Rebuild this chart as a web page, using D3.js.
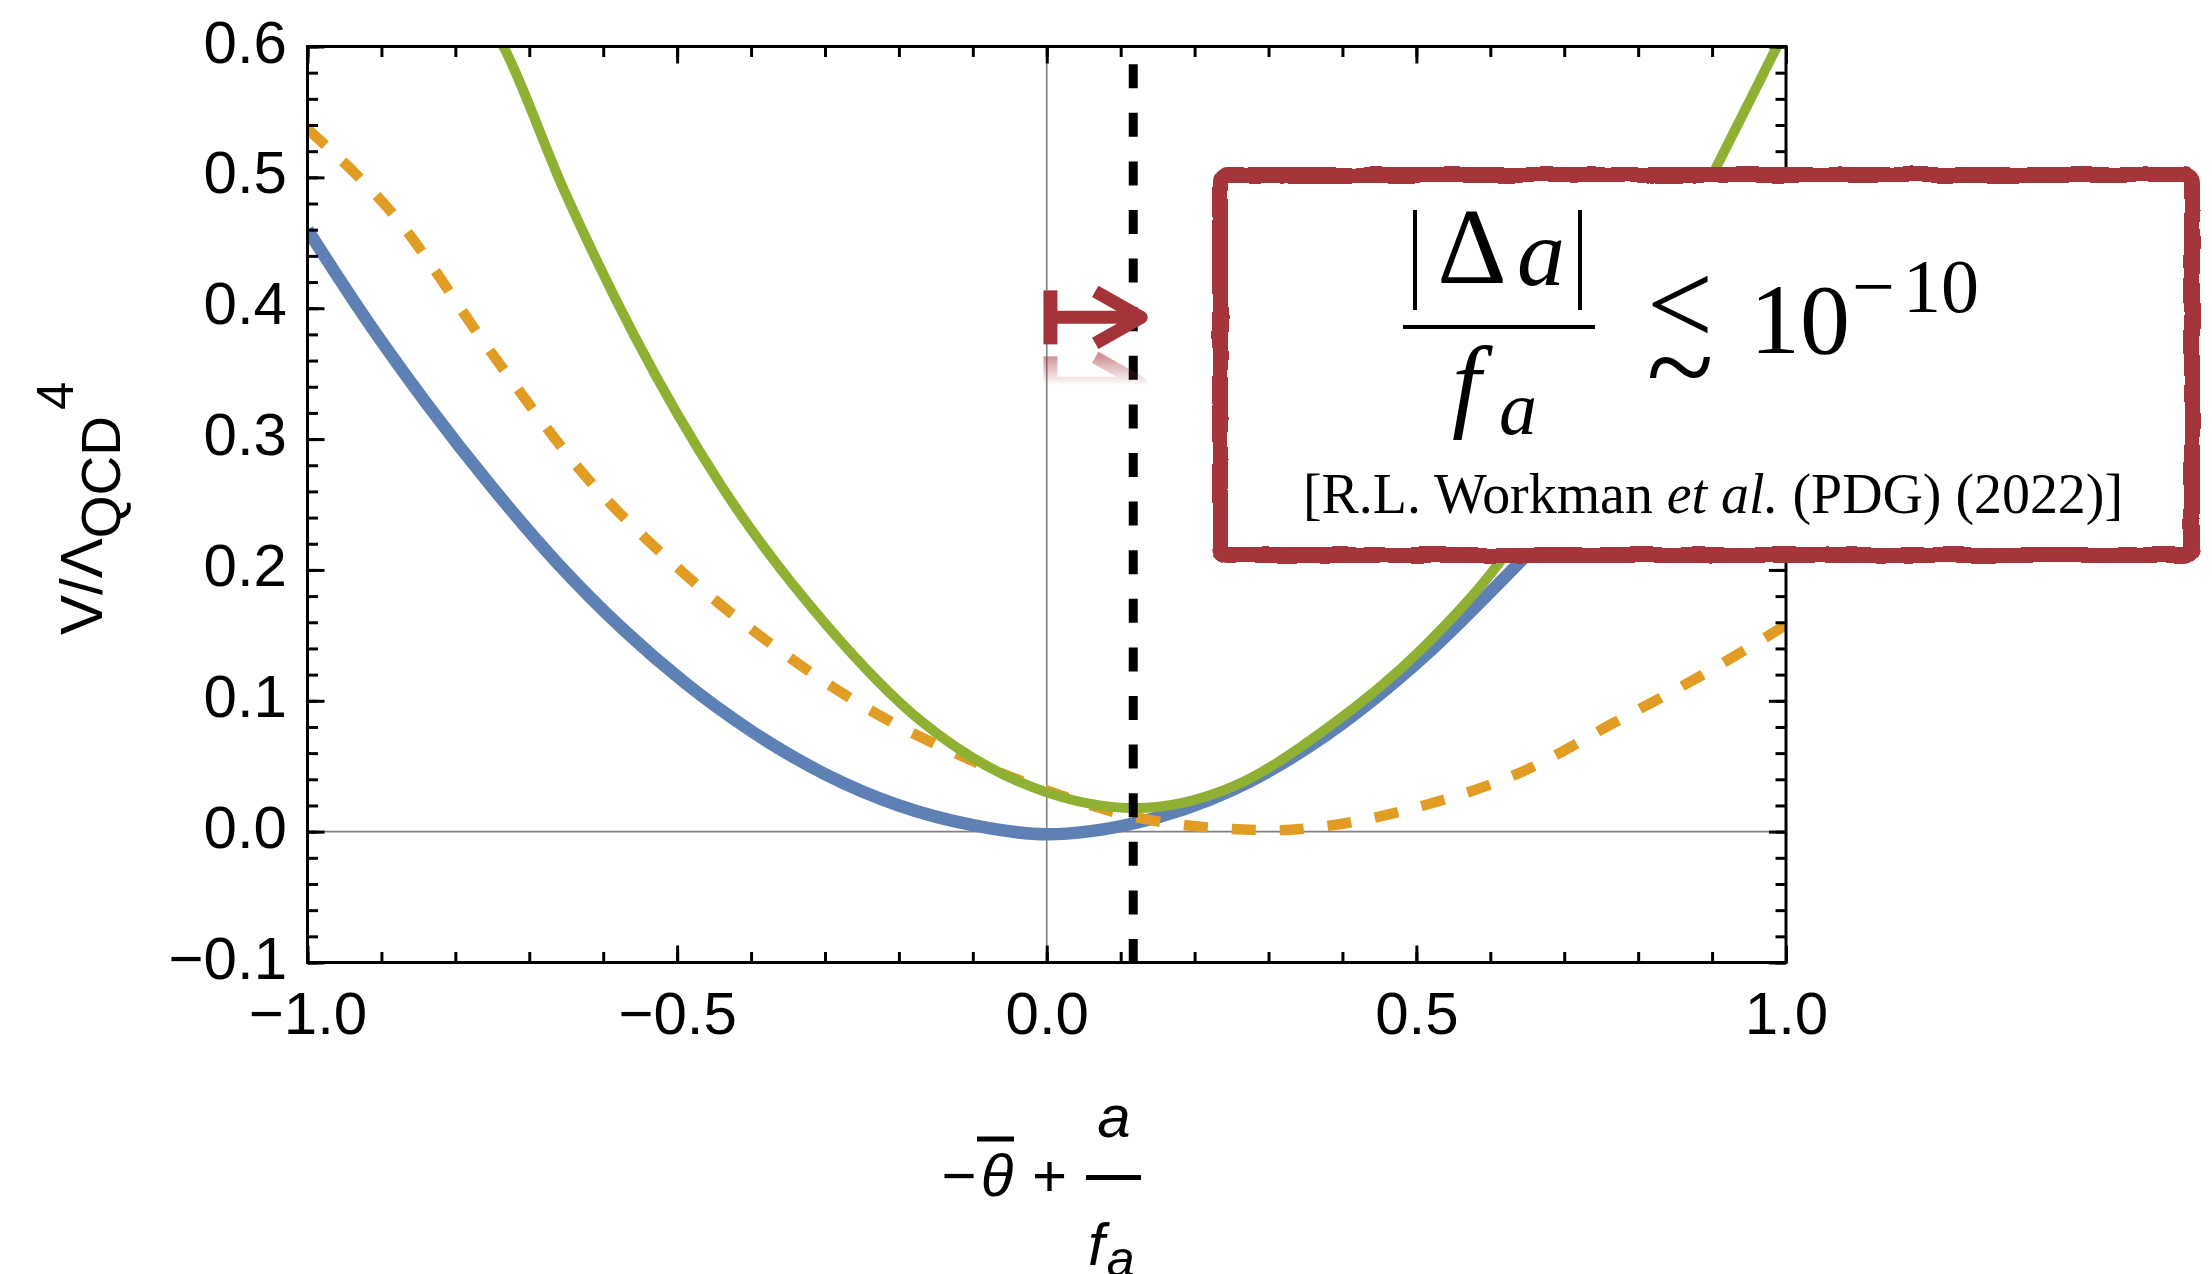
<!DOCTYPE html>
<html lang="en">
<head>
<meta charset="UTF-8">
<script src="https://d3js.org/d3.v7.min.js"></script>
<title>V / Lambda_QCD^4</title>
<style>
body{margin:0;background:#fff;}
svg text{font-family:"Liberation Sans",Arial,sans-serif;}
</style>
</head>
<body>
<script>
// tick values and labels
var xTicks = [-1.0, -0.5, 0.0, 0.5, 1.0];
var xTickLabels = ["−1.0", "−0.5", "0.0", "0.5", "1.0"];
var yTicks = [-0.1, 0.0, 0.1, 0.2, 0.3, 0.4, 0.5, 0.6];
var yTickLabels = ["−0.1", "0.0", "0.1", "0.2", "0.3", "0.4", "0.5", "0.6"];

// blue, thick solid
var blueX = [-1.0, -0.92, -0.84, -0.75, -0.66, -0.57, -0.49, -0.40, -0.30, -0.20, -0.10, 0.0, 0.12, 0.25, 0.38, 0.51, 0.64, 0.75, 0.85, 1.0];
var blueY = [0.460, 0.391, 0.328, 0.263, 0.204, 0.153, 0.114, 0.077, 0.044, 0.020, 0.005, -0.002, 0.0066, 0.0315, 0.0745, 0.1335, 0.206, 0.270, 0.330, 0.460];
// orange, dashed
var orangeX = [-1.0, -0.88, -0.75, -0.62, -0.49, -0.36, -0.23, -0.10, 0.0, 0.12, 0.25, 0.31, 0.38, 0.51, 0.64, 0.77, 0.90, 1.0];
var orangeY = [0.537, 0.469, 0.365, 0.269, 0.197, 0.138, 0.090, 0.054, 0.0315, 0.011, 0.002, 0.001, 0.0044, 0.020, 0.045, 0.084, 0.124, 0.158];
// green, solid
var greenX = [-0.76, -0.735, -0.654, -0.557, -0.441, -0.298, -0.169, 0.0, 0.12, 0.25, 0.379, 0.508, 0.606, 0.70, 0.80, 0.905, 0.954, 0.988, 1.0];
var greenY = [0.625, 0.600, 0.4915, 0.378, 0.265, 0.158, 0.084, 0.030, 0.018, 0.034, 0.079, 0.140, 0.201, 0.280, 0.390, 0.507, 0.562, 0.600, 0.613];

var boundX = 0.117;   // dashed vertical line
var arrowX = 0.005;   // start of the red arrow
var arrowY = 0.393;

var W = 2212, H = 1274;
var pL = 307.5, pR = 1786, pT = 46.5, pB = 962.5;
var red = "#a5343a";

var x = d3.scaleLinear().domain([-1, 1]).range([pL, pR]);
var y = d3.scaleLinear().domain([-0.1, 0.6]).range([pB, pT]);

var svg = d3.select("body").append("svg")
    .attr("width", W).attr("height", H)
    .attr("viewBox", "0 0 " + W + " " + H);

var defs = svg.append("defs");
defs.append("clipPath").attr("id", "plotclip")
    .append("rect").attr("x", pL).attr("y", pT)
    .attr("width", pR - pL).attr("height", pB - pT);

var rough = defs.append("filter").attr("id", "rough")
    .attr("x", "-5%").attr("y", "-5%").attr("width", "110%").attr("height", "110%");
rough.append("feTurbulence").attr("type", "fractalNoise").attr("baseFrequency", 0.03)
    .attr("numOctaves", 2).attr("seed", 4).attr("result", "noise");
rough.append("feDisplacementMap").attr("in", "SourceGraphic").attr("in2", "noise")
    .attr("scale", 5.5).attr("xChannelSelector", "R").attr("yChannelSelector", "G");

var grad = defs.append("linearGradient").attr("id", "fadegrad")
    .attr("gradientUnits", "userSpaceOnUse")
    .attr("x1", 0).attr("x2", 0).attr("y1", y(arrowY) + 35).attr("y2", y(arrowY) + 68);
grad.append("stop").attr("offset", 0).attr("stop-color", "#fff").attr("stop-opacity", 0.6);
grad.append("stop").attr("offset", 1).attr("stop-color", "#fff").attr("stop-opacity", 0);
defs.append("mask").attr("id", "fade").attr("maskUnits", "userSpaceOnUse")
    .attr("x", 0).attr("y", 0).attr("width", W).attr("height", H)
    .append("rect").attr("x", 0).attr("y", 0).attr("width", W).attr("height", H)
    .attr("fill", "url(#fadegrad)");

// thin gray axes through zero
svg.append("line").attr("x1", x(0)).attr("x2", x(0)).attr("y1", pT).attr("y2", pB)
    .attr("stroke", "#808080").attr("stroke-width", 1.6);
svg.append("line").attr("x1", pL).attr("x2", pR).attr("y1", y(0)).attr("y2", y(0))
    .attr("stroke", "#808080").attr("stroke-width", 1.6);

function pts(xs, ys) {
    return xs.map(function(d, i) { return [d, ys[i]]; });
}
var line = d3.line()
    .x(function(d) { return x(d[0]); })
    .y(function(d) { return y(d[1]); })
    .curve(d3.curveMonotoneX);

var curves = svg.append("g").attr("clip-path", "url(#plotclip)").attr("fill", "none");
curves.append("path").attr("d", line(pts(blueX, blueY)))
    .attr("stroke", "#5e81b5").attr("stroke-width", 12.5);
curves.append("path").attr("d", line(pts(orangeX, orangeY)))
    .attr("stroke", "#e19c24").attr("stroke-width", 10.5).attr("stroke-dasharray", "24,24");
curves.append("path").attr("d", line(pts(greenX, greenY)))
    .attr("stroke", "#8fb032").attr("stroke-width", 10);

// dashed bound
svg.append("line").attr("x1", x(boundX)).attr("x2", x(boundX)).attr("y1", pT).attr("y2", pB)
    .attr("stroke", "#000").attr("stroke-width", 9)
    .attr("stroke-dasharray", "24,24.6").attr("stroke-dashoffset", 30.9);

// red arrow and its faded reflection
function drawArrow(g) {
    var ax = x(arrowX), ay = y(arrowY), tip = x(boundX) + 8;
    g.append("line").attr("x1", ax).attr("x2", ax).attr("y1", ay - 27).attr("y2", ay + 27)
        .attr("stroke", red).attr("stroke-width", 14);
    g.append("line").attr("x1", ax).attr("x2", tip - 4).attr("y1", ay).attr("y2", ay)
        .attr("stroke", red).attr("stroke-width", 13);
    g.append("polyline")
        .attr("points", (tip - 46) + "," + (ay - 26) + " " + tip + "," + ay + " " + (tip - 46) + "," + (ay + 26))
        .attr("fill", "none").attr("stroke", red).attr("stroke-width", 13)
        .attr("stroke-linejoin", "round");
}
drawArrow(svg.append("g"));
var mirror = 2 * (y(arrowY) + 33);
drawArrow(svg.append("g").attr("mask", "url(#fade)")
    .append("g").attr("transform", "translate(0," + mirror + ") scale(1,-1)"));

// axes: frame ticks on all four sides
function styleAxis(g) {
    g.select(".domain").remove();
    g.selectAll(".tick line").attr("stroke", "#000").attr("stroke-width", 3);
    g.attr("font-size", 60).attr("font-family", null);
    g.selectAll("text").attr("fill", "#000");
}
var yMinor = d3.range(-10, 61, 2).map(function(d) { return d / 100; });
var xMinor = d3.range(-10, 11, 1).map(function(d) { return d / 10; });

svg.append("g").attr("transform", "translate(" + pL + ",0)")
    .call(d3.axisLeft(y).tickValues(yMinor).tickSize(-10.5).tickFormat("")).call(styleAxis);
svg.append("g").attr("transform", "translate(" + pR + ",0)")
    .call(d3.axisRight(y).tickValues(yMinor).tickSize(-10.5).tickFormat("")).call(styleAxis);
svg.append("g").attr("transform", "translate(0," + pB + ")")
    .call(d3.axisBottom(x).tickValues(xMinor).tickSize(-10.5).tickFormat("")).call(styleAxis);
svg.append("g").attr("transform", "translate(0," + pT + ")")
    .call(d3.axisTop(x).tickValues(xMinor).tickSize(-10.5).tickFormat("")).call(styleAxis);

var yAxis = svg.append("g").attr("transform", "translate(" + pL + ",0)")
    .call(d3.axisLeft(y).tickValues(yTicks).tickSize(-17).tickPadding(20.5)
        .tickFormat(function(d, i) { return yTickLabels[i]; }))
    .call(styleAxis);
yAxis.selectAll("text").attr("dy", 15.5);
svg.append("g").attr("transform", "translate(" + pR + ",0)")
    .call(d3.axisRight(y).tickValues(yTicks).tickSize(-17).tickFormat("")).call(styleAxis);

var xAxis = svg.append("g").attr("transform", "translate(0," + pB + ")")
    .call(d3.axisBottom(x).tickValues(xTicks).tickSize(-17)
        .tickFormat(function(d, i) { return xTickLabels[i]; }))
    .call(styleAxis);
xAxis.selectAll("text").attr("y", 71).attr("dy", 0);
svg.append("g").attr("transform", "translate(0," + pT + ")")
    .call(d3.axisTop(x).tickValues(xTicks).tickSize(-17).tickFormat("")).call(styleAxis);

svg.append("rect").attr("x", pL).attr("y", pT)
    .attr("width", pR - pL).attr("height", pB - pT)
    .attr("fill", "none").attr("stroke", "#000").attr("stroke-width", 3);

// y axis label
var yl = svg.append("text").attr("transform", "translate(101.7,635) rotate(-90)")
    .attr("font-size", 60).attr("fill", "#000");
yl.append("tspan").text("V/Λ");
yl.append("tspan").attr("font-size", 55).attr("dy", 18).text("QCD");
yl.append("tspan").attr("font-size", 51).attr("dy", -47).attr("dx", 6).text("4");

// x axis label
var xl = svg.append("g").attr("fill", "#000").attr("font-size", 60);
xl.append("text").attr("x", 959).attr("y", 1196).attr("text-anchor", "middle").text("−");
xl.append("text").attr("x", 997).attr("y", 1196).attr("text-anchor", "middle")
    .attr("font-style", "italic").text("θ");
xl.append("line").attr("x1", 977).attr("x2", 1014).attr("y1", 1139).attr("y2", 1139)
    .attr("stroke", "#000").attr("stroke-width", 5);
xl.append("text").attr("x", 1049.5).attr("y", 1196).attr("text-anchor", "middle").text("+");
xl.append("line").attr("x1", 1086).attr("x2", 1141).attr("y1", 1177.5).attr("y2", 1177.5)
    .attr("stroke", "#000").attr("stroke-width", 5);
xl.append("text").attr("x", 1114).attr("y", 1136.7).attr("text-anchor", "middle")
    .attr("font-style", "italic").text("a");
var fa = xl.append("text").attr("x", 1088).attr("y", 1265).attr("font-style", "italic");
fa.append("tspan").text("f");
fa.append("tspan").attr("font-size", 50).attr("dy", 11).attr("dx", 2).text("a");

// hand-drawn box with the bound
var box = svg.append("g");
box.append("rect").attr("x", 1220).attr("y", 175).attr("width", 972).attr("height", 380)
    .attr("rx", 8).attr("fill", "#fff").attr("stroke", red).attr("stroke-width", 16)
    .attr("filter", "url(#rough)");

var serif = "'Liberation Serif','Times New Roman',serif";
var bt = box.append("g").attr("fill", "#000").style("font-family", serif);
bt.append("line").attr("x1", 1415).attr("x2", 1415).attr("y1", 210).attr("y2", 310)
    .attr("stroke", "#000").attr("stroke-width", 4);
bt.append("line").attr("x1", 1580).attr("x2", 1580).attr("y1", 210).attr("y2", 310)
    .attr("stroke", "#000").attr("stroke-width", 4);
bt.append("text").attr("x", 1472).attr("y", 283).attr("text-anchor", "middle")
    .attr("font-size", 108).style("font-family", serif).text("Δ");
bt.append("text").attr("x", 1541).attr("y", 285).attr("text-anchor", "middle")
    .attr("font-size", 96).attr("font-style", "italic").style("font-family", serif).text("a");
bt.append("line").attr("x1", 1403).attr("x2", 1595).attr("y1", 327).attr("y2", 327)
    .attr("stroke", "#000").attr("stroke-width", 4);
var ff = bt.append("text").attr("x", 1452).attr("y", 418).attr("font-size", 104)
    .attr("font-style", "italic").style("font-family", serif);
ff.append("tspan").text("f");
ff.append("tspan").attr("font-size", 76).attr("dy", 16).attr("dx", 18).text("a");
// "less than or approximately" built from its two strokes
var lsim = bt.append("text").attr("font-size", 118).attr("text-anchor", "middle")
    .style("font-family", serif);
lsim.append("tspan").attr("x", 1680).attr("y", 344).text("<");
lsim.append("tspan").attr("x", 1680).attr("y", 409).attr("font-size", 124).text("~");
bt.append("text").attr("x", 1750).attr("y", 353).attr("font-size", 100)
    .style("font-family", serif).text("10");
var sup = bt.append("text").attr("x", 1852).attr("y", 312).attr("font-size", 76)
    .style("font-family", serif);
sup.append("tspan").text("−");
sup.append("tspan").attr("dx", 8).text("10");
var cite = bt.append("text").attr("x", 1303).attr("y", 513).attr("font-size", 56)
    .attr("textLength", 820).attr("lengthAdjust", "spacingAndGlyphs")
    .style("font-family", serif);
cite.append("tspan").text("[R.L. Workman ");
cite.append("tspan").attr("font-style", "italic").text("et al.");
cite.append("tspan").text(" (PDG) (2022)]");
</script>
</body>
</html>
